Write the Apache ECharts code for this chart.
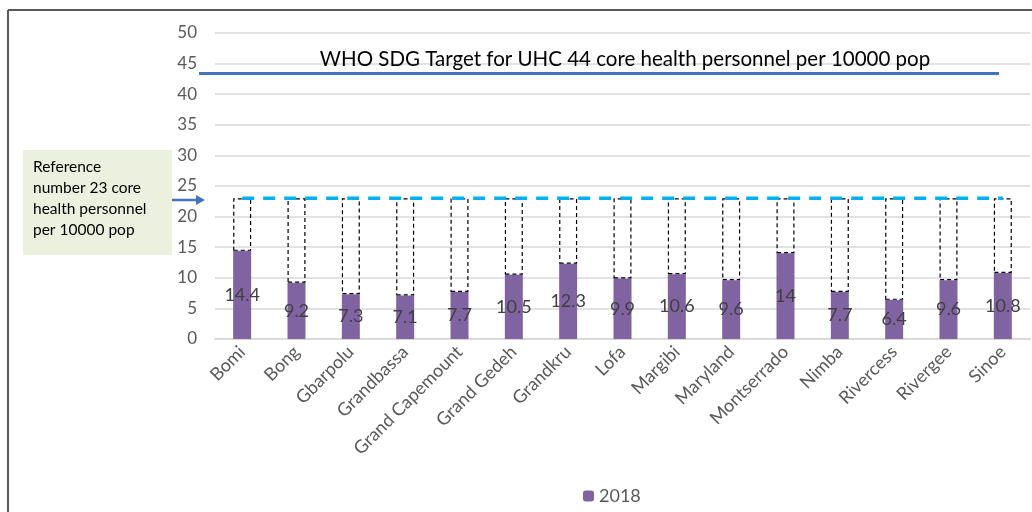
<!doctype html>
<html>
<head>
    <meta charset="UTF-8">
    <title>health_personnel</title>
    <script src="https://cdn.jsdelivr.net/npm/echarts@6/dist/echarts.min.js"></script>
    <style>
        html, body { margin: 0; padding: 0; background: #fff; }
        #main { width: 1032px; height: 512px; }
    </style>
</head>
<body>
    <div id="main"></div>
    <script>
        var counties = ['Bomi', 'Bong', 'Gbarpolu', 'Grandbassa', 'Grand Capemount', 'Grand Gedeh', 'Grandkru',
            'Lofa', 'Margibi', 'Maryland', 'Montserrado', 'Nimba', 'Rivercess', 'Rivergee', 'Sinoe'];
        var values2018 = [14.4, 9.2, 7.3, 7.1, 7.7, 10.5, 12.3, 9.9, 10.6, 9.6, 14, 7.7, 6.4, 9.6, 10.8];
        var referenceLevel = 23;
        var whoTarget = 43.5;
        var yTicks = [0, 5, 10, 15, 20, 25, 30, 35, 40, 45, 50];

        // gap up to the reference number, drawn as dashed empty boxes
        var gapValues = values2018.map(function (v) { return +(referenceLevel - v).toFixed(1); });
        var refLine = counties.map(function () { return referenceLevel; });

        var font = 'Lato, "Open Sans", sans-serif';
        var myChart = echarts.init(document.getElementById('main'));

        myChart.setOption({
            animation: false,
            textStyle: { fontFamily: font },
            grid: { left: 215, right: 2, top: 33, bottom: 173 },
            legend: {
                data: ['2018'],
                bottom: 2,
                left: 578,
                itemWidth: 11,
                itemHeight: 11,
                itemGap: 6,
                textStyle: { fontSize: 18, color: '#595959', fontFamily: font }
            },
            xAxis: {
                type: 'category',
                data: counties,
                axisTick: { show: false },
                axisLine: { lineStyle: { color: '#d9d9d9', width: 2 } },
                axisLabel: { rotate: 45, fontSize: 18, color: '#595959', margin: 10, interval: 0 }
            },
            yAxis: {
                type: 'value',
                min: yTicks[0],
                max: yTicks[yTicks.length - 1],
                interval: 5,
                axisLine: { show: false },
                axisTick: { show: false },
                axisLabel: { fontSize: 17, color: '#595959', margin: 18 },
                splitLine: { lineStyle: { color: '#d9d9d9', width: 1.5 } }
            },
            series: [
                {
                    name: '2018',
                    type: 'bar',
                    stack: 'total',
                    barWidth: 18,
                    data: values2018,
                    itemStyle: { color: '#8064a2' },
                    label: { show: true, position: 'inside', fontSize: 18, color: '#404040' },
                    markLine: {
                        silent: true,
                        symbol: 'none',
                        label: {
                            show: true,
                            position: 'middle',
                            formatter: 'WHO SDG Target for UHC 44 core health personnel per 10000 pop',
                            fontSize: 20.5,
                            color: '#000',
                            distance: 3,
                            offset: [26, 0]
                        },
                        lineStyle: { color: '#4472c4', width: 3, type: 'solid' },
                        data: [[
                            { coord: [-0.3, whoTarget], x: 199 },
                            { coord: [14, whoTarget], x: 999 }
                        ]]
                    }
                },
                {
                    name: 'gap',
                    type: 'bar',
                    stack: 'total',
                    barWidth: 18,
                    data: gapValues,
                    itemStyle: {
                        color: 'rgba(255,255,255,0)',
                        borderColor: '#000',
                        borderWidth: 1.2,
                        borderType: [4, 3]
                    }
                },
                {
                    name: 'reference',
                    type: 'line',
                    data: refLine,
                    symbol: 'none',
                    lineStyle: { color: '#00b0f0', width: 3.5, type: [12, 9] },
                    z: 5
                }
            ],
            graphic: [
                { type: 'line', shape: { x1: 8, y1: 10, x2: 1032, y2: 10 }, style: { stroke: '#595959', lineWidth: 2 } },
                { type: 'line', shape: { x1: 8, y1: 10, x2: 8, y2: 512 }, style: { stroke: '#595959', lineWidth: 2 } },
                { type: 'rect', shape: { x: 23, y: 150, width: 149, height: 105 }, style: { fill: '#ebf1de' } },
                {
                    type: 'text', left: 33, top: 156,
                    style: {
                        text: 'Reference\nnumber 23 core\nhealth personnel\nper 10000 pop',
                        font: '15.5px ' + font, fill: '#000', lineHeight: 21
                    }
                },
                { type: 'line', shape: { x1: 172, y1: 200, x2: 198, y2: 200 }, style: { stroke: '#4472c4', lineWidth: 2.5 } },
                { type: 'polygon', shape: { points: [[196, 195], [205, 200], [196, 205]] }, style: { fill: '#4472c4' } }
            ]
        });
    </script>
</body>
</html>
